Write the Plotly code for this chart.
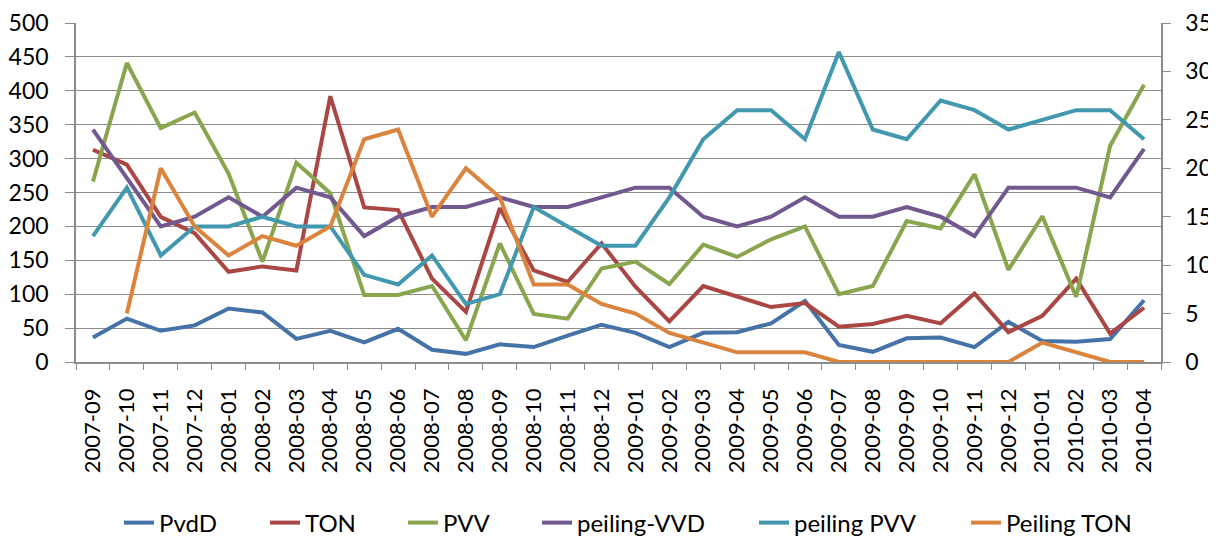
import plotly.graph_objects as go

months = ["2007-09","2007-10","2007-11","2007-12","2008-01","2008-02","2008-03","2008-04",
          "2008-05","2008-06","2008-07","2008-08","2008-09","2008-10","2008-11","2008-12",
          "2009-01","2009-02","2009-03","2009-04","2009-05","2009-06","2009-07","2009-08",
          "2009-09","2009-10","2009-11","2009-12","2010-01","2010-02","2010-03","2010-04"]

# left axis (counts)
pvdd = [36, 64, 46, 54, 79, 73, 34, 46, 29, 49, 18, 12, 26, 22, 39, 55,
        43, 22, 43, 44, 57, 90, 25, 15, 35, 36, 22, 59, 31, 30, 34, 91]
ton = [313, 291, 214, 190, 133, 141, 135, 392, 228, 224, 123, 74, 227, 135, 118, 175,
       111, 60, 112, 96, 81, 87, 52, 56, 68, 57, 101, 44, 68, 123, 42, 80]
pvv = [266, 441, 345, 368, 278, 148, 294, 249, 99, 99, 112, 32, 175, 71, 64, 138,
       148, 115, 173, 155, 181, 200, 100, 112, 208, 197, 277, 136, 215, 96, 319, 409]

# right axis (poll seats)
peiling_vvd = [24, 19, 14, 15, 17, 15, 18, 17, 13, 15, 16, 16, 17, 16, 16, 17,
               18, 18, 15, 14, 15, 17, 15, 15, 16, 15, 13, 18, 18, 18, 17, 22]
peiling_pvv = [13, 18, 11, 14, 14, 15, 14, 14, 9, 8, 11, 6, 7, 16, 14, 12,
               12, 17, 23, 26, 26, 23, 32, 24, 23, 27, 26, 24, 25, 26, 26, 23]
peiling_ton = [None, 5, 20, 14, 11, 13, 12, 14, 23, 24, 15, 20, 17, 8, 8, 6,
               5, 3, 2, 1, 1, 1, 0, 0, 0, 0, 0, 0, 2, 1, 0, 0]

left_series = [("PvdD", pvdd, "#4572A7"), ("TON", ton, "#AA4643"), ("PVV", pvv, "#89A54E")]
right_series = [("peiling-VVD", peiling_vvd, "#71588F"), ("peiling PVV", peiling_pvv, "#4198AF"),
                ("Peiling TON", peiling_ton, "#DB843D")]

# page x where each legend label starts (one legend box per entry)
legend_text_x = [159, 305, 443, 577, 794, 1006]

FONT = "Lato, 'Open Sans', sans-serif"
grid = "#8c8c8c"
FIG_W, FIG_H = 1208, 532   # page has an 8px body margin
OFF = 8

fig = go.Figure()
all_series = [(s, "y") for s in left_series] + [(s, "y2") for s in right_series]
legends = {}
for k, ((name, vals, col), ax) in enumerate(all_series):
    lname = "legend" if k == 0 else f"legend{k + 1}"
    fig.add_trace(go.Scatter(x=months, y=vals, name=name, mode="lines",
                             line=dict(color=col, width=4), yaxis=ax, legend=lname))
    legends[lname] = dict(orientation="h", xref="container", yref="container",
                          x=(legend_text_x[k] - OFF - 40) / FIG_W, xanchor="left",
                          y=(FIG_H - (523 - OFF)) / FIG_H, yanchor="middle",
                          font=dict(size=24), bgcolor="rgba(0,0,0,0)")

fig.update_layout(
    width=FIG_W, height=FIG_H,
    margin=dict(l=68, r=55, t=15, b=178, autoexpand=False),
    paper_bgcolor="white", plot_bgcolor="white",
    font=dict(family=FONT, size=22, color="#000000"),
    showlegend=True,
    xaxis=dict(type="category", range=[-0.5, 31.5], tickson="boundaries",
               tickangle=-90, ticks="outside", ticklen=6, tickcolor=grid,
               showline=True, linecolor=grid, linewidth=1.5, showgrid=False,
               tickfont=dict(size=22), ticklabelstandoff=16, automargin=False),
    yaxis=dict(range=[0, 500], dtick=50, ticks="outside", ticklen=9, tickcolor=grid,
               showline=True, linecolor=grid, linewidth=1.5,
               showgrid=True, gridcolor=grid, gridwidth=1.3, zeroline=False,
               tickfont=dict(size=23), ticklabelstandoff=12, automargin=False),
    yaxis2=dict(range=[0, 35], dtick=5, overlaying="y", side="right", ticks="outside",
                ticklen=8, tickcolor=grid, showline=True, linecolor=grid, linewidth=1.5,
                showgrid=False, zeroline=False, tickfont=dict(size=23),
                ticklabelstandoff=10, automargin=False),
    **legends,
)

fig.write_html("out.html")
